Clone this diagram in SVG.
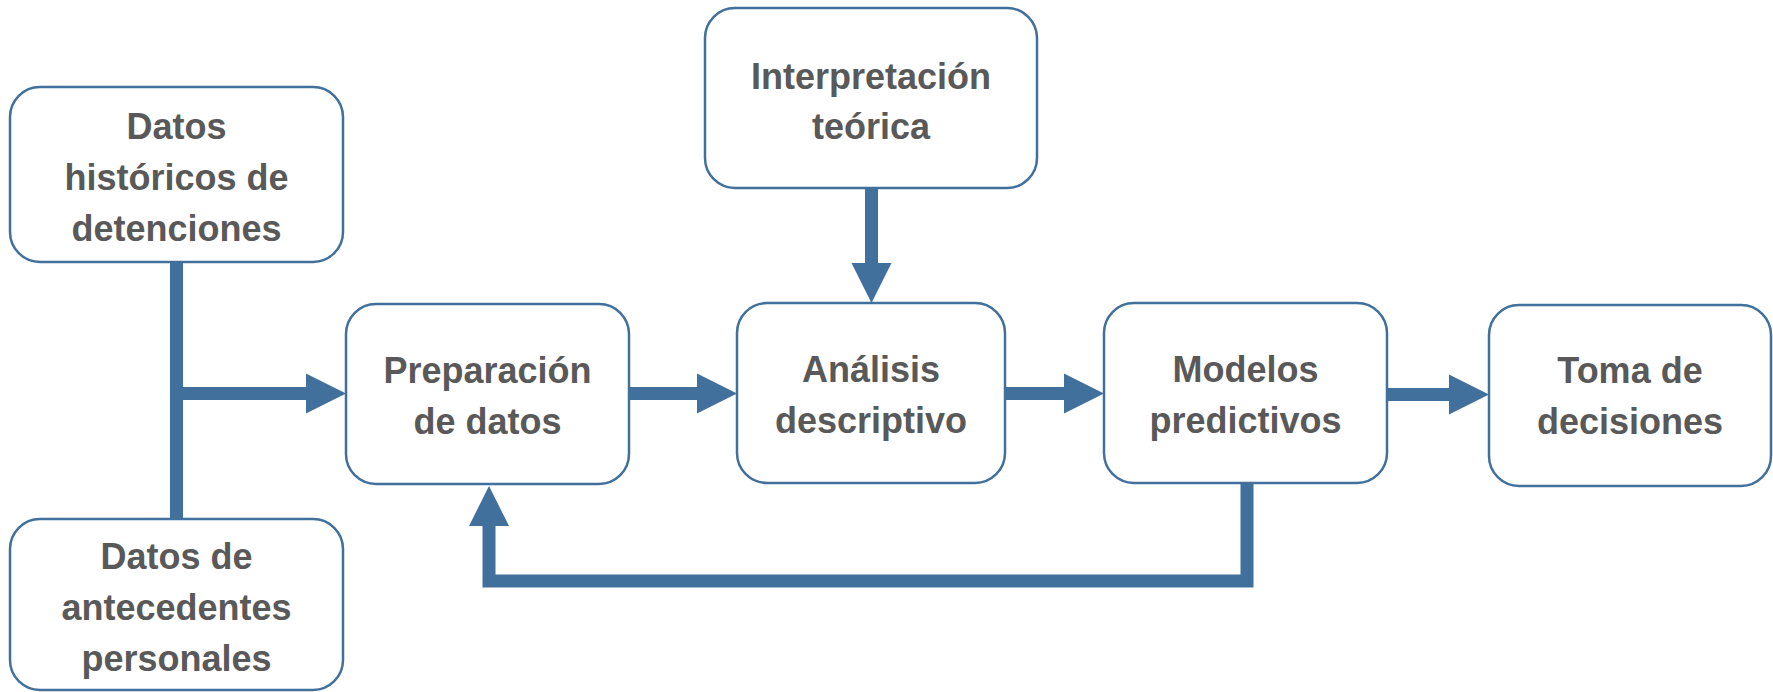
<svg xmlns="http://www.w3.org/2000/svg" width="1773" height="692" viewBox="0 0 1773 692">
<style>
.box{fill:#ffffff;stroke:#41709C;stroke-width:2.5}
.lbl{font-family:"Liberation Sans",Arial,sans-serif;font-weight:bold;font-size:36px;fill:#595959;text-anchor:middle}
.conn{fill:none;stroke:#41709C;stroke-width:13;stroke-linejoin:miter;stroke-linecap:butt}
</style>
<defs>
<marker id="ah" markerUnits="userSpaceOnUse" markerWidth="41" markerHeight="41" refX="0" refY="20" orient="auto" viewBox="0 0 41 40">
<path d="M0,0 L40,20 L0,40 z" fill="#41709C"/>
</marker>
</defs>
<rect width="1773" height="692" fill="#ffffff"/>
<g id="connectors">
<path class="conn" d="M176.5,262 V519"/>
<path class="conn" d="M176.5,393.5 H306" marker-end="url(#ah)"/>
<path class="conn" d="M629,393.5 H697" marker-end="url(#ah)"/>
<path class="conn" d="M871.5,188 V263" marker-end="url(#ah)"/>
<path class="conn" d="M1005,393.5 H1064" marker-end="url(#ah)"/>
<path class="conn" d="M1387,394.5 H1449" marker-end="url(#ah)"/>
<path class="conn" d="M1247,483 V581 H489 V526" marker-end="url(#ah)"/>
</g>
<g id="n-historicos">
<rect class="box" x="10" y="87" width="333" height="175" rx="30"/>
<text class="lbl" x="176.5" y="138.5">Datos</text>
<text class="lbl" x="176.5" y="189.5">históricos de</text>
<text class="lbl" x="176.5" y="240.5">detenciones</text>
</g>
<g id="n-antecedentes">
<rect class="box" x="10" y="519" width="333" height="171" rx="30"/>
<text class="lbl" x="176.5" y="568.5">Datos de</text>
<text class="lbl" x="176.5" y="619.5">antecedentes</text>
<text class="lbl" x="176.5" y="670.5">personales</text>
</g>
<g id="n-preparacion">
<rect class="box" x="346" y="304" width="283" height="180" rx="30"/>
<text class="lbl" x="487.5" y="383">Preparación</text>
<text class="lbl" x="487.5" y="434">de datos</text>
</g>
<g id="n-interpretacion">
<rect class="box" x="705" y="8" width="332" height="180" rx="30"/>
<text class="lbl" x="871" y="89">Interpretación</text>
<text class="lbl" x="871" y="139">teórica</text>
</g>
<g id="n-analisis">
<rect class="box" x="737" y="303" width="268" height="180" rx="30"/>
<text class="lbl" x="871" y="382">Análisis</text>
<text class="lbl" x="871" y="433">descriptivo</text>
</g>
<g id="n-modelos">
<rect class="box" x="1104" y="303" width="283" height="180" rx="30"/>
<text class="lbl" x="1245.5" y="382">Modelos</text>
<text class="lbl" x="1245.5" y="433">predictivos</text>
</g>
<g id="n-decisiones">
<rect class="box" x="1489" y="305" width="282" height="181" rx="30"/>
<text class="lbl" x="1630" y="383">Toma de</text>
<text class="lbl" x="1630" y="434">decisiones</text>
</g>
</svg>
